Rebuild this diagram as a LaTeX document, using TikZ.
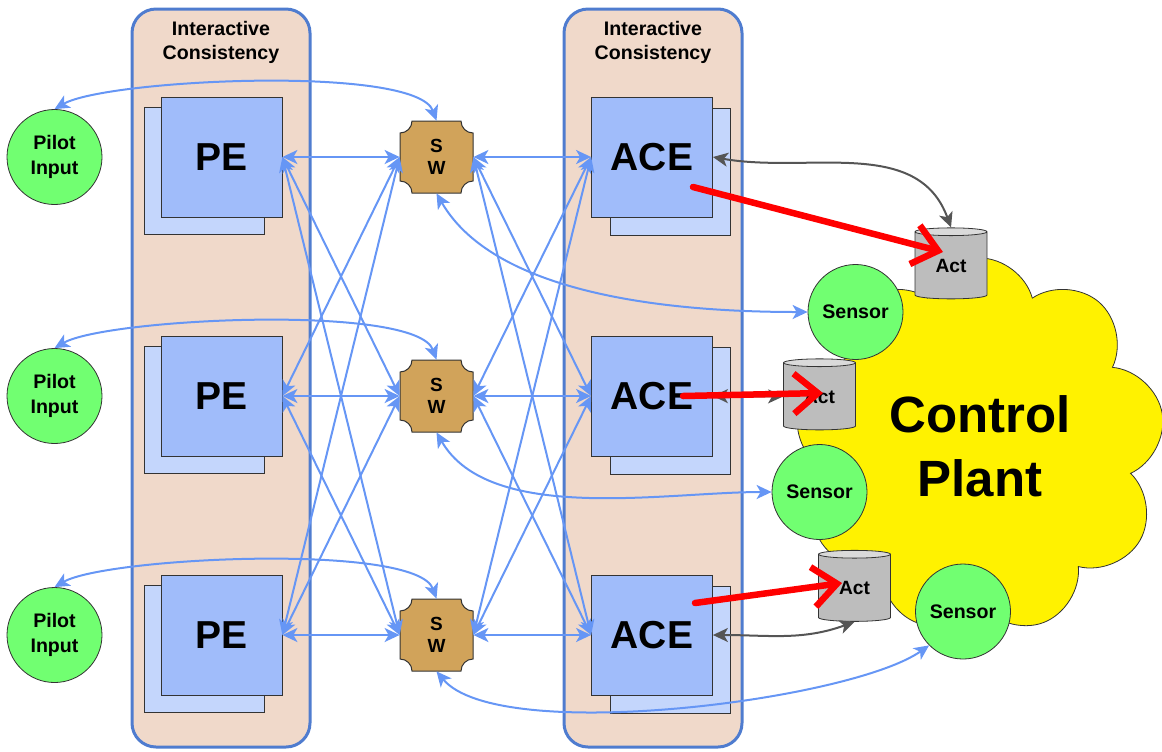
\documentclass[tikz,border=0pt]{standalone}
\usepackage{fontspec}
\setmainfont{Liberation Sans}
\usepackage{tikz}
\usepackage{xcolor}
\usetikzlibrary{calc, arrows, arrows.meta, shapes.geometric, shapes.symbols, positioning}
\definecolor{ic_fill}{RGB}{240,217,202}
\definecolor{ic_line}{RGB}{79,124,207}
\definecolor{box_front}{RGB}{160,188,250}
\definecolor{box_back}{RGB}{196,214,252}
\definecolor{sw_tan}{RGB}{209,163,90}
\definecolor{io_green}{RGB}{113,255,113}
\definecolor{link_blue}{RGB}{102,150,245}
\definecolor{act_gray}{RGB}{189,189,189}
\definecolor{act_top}{RGB}{218,218,218}
\definecolor{ctl_gray}{RGB}{85,85,85}
% スイッチの外形 (角を内側に丸く切る)
\newcommand{\swplate}[1]{%
  \filldraw[fill=sw_tan, draw=black!80, line width=0.5pt]
    ([shift={(-12.25pt,18pt)}]#1) -- ([shift={(12.25pt,18pt)}]#1)
    arc[start angle=180,end angle=270,radius=6pt] -- ([shift={(18.25pt,-12pt)}]#1)
    arc[start angle=90,end angle=180,radius=6pt] -- ([shift={(-12.25pt,-18pt)}]#1)
    arc[start angle=0,end angle=90,radius=6pt] -- ([shift={(-18.25pt,12pt)}]#1)
    arc[start angle=270,end angle=360,radius=6pt] -- cycle;}

\begin{document}
\begin{tikzpicture}[x=0.5pt,y=-0.5pt,>={Stealth[length=7.5pt,width=7pt,inset=2pt]},
    container/.style={draw=ic_line, line width=1.5pt, fill=ic_fill, rounded corners=12pt, minimum width=89pt, minimum height=369pt},
    ictitle/.style={font=\fontsize{9.8}{12}\selectfont\bfseries, align=center, inner sep=1pt},
    front/.style={draw=black!80, fill=box_front, minimum width=60.5pt, minimum height=60pt, font=\fontsize{19.5}{22}\selectfont\bfseries},
    back/.style={draw=black!80, fill=box_back, minimum width=60pt, minimum height=63.5pt},
    swtext/.style={minimum width=36.5pt, minimum height=36pt, inner sep=0pt, align=center, font=\fontsize{9.5}{11}\selectfont\bfseries},
    io/.style={circle, draw=black!80, fill=io_green, minimum size=47.5pt, inner sep=0pt, align=center, font=\fontsize{9.8}{12.5}\selectfont\bfseries},
    actuator/.style={cylinder, shape border rotate=90, aspect=0.25, draw=black!80, cylinder uses custom fill, cylinder body fill=act_gray, cylinder end fill=act_top, minimum width=36pt, minimum height=35.5pt, inner sep=0pt, font=\fontsize{9.6}{11}\selectfont\bfseries},
    link/.style={<->, link_blue, line width=1pt},
    ctl/.style={<->, ctl_gray, line width=1pt},
    cmd/.style={-{Straight Barb[length=12pt,width=20pt]}, red, line width=3.25pt, line cap=round}]
    \useasboundingbox (0,0) rectangle (1162,751);
    %Interactive Consistency
    \node[container] (ic1) at (221,378) {};
    \node[ictitle, below=5.5pt of ic1.north] (ic1t) {Interactive\\Consistency};
    \node[container] (ic2) at (653,378) {};
    \node[ictitle, below=5.5pt of ic2.north] (ic2t) {Interactive\\Consistency};
    %PE
    \node[back] (pe1b) at (204,170.5) {};
    \node[front] (pe1) at (221.5,157) {PE};
    \node[back] (pe2b) at (204,409.5) {};
    \node[front] (pe2) at (221.5,396) {PE};
    \node[back] (pe3b) at (204,648.5) {};
    \node[front] (pe3) at (221.5,635) {PE};
    %ACE
    \node[back] (ace1b) at (670.5,172) {};
    \node[front] (ace1) at (652,157) {ACE};
    \node[back] (ace2b) at (670.5,411) {};
    \node[front] (ace2) at (652,396) {ACE};
    \node[back] (ace3b) at (670.5,650) {};
    \node[front] (ace3) at (652,635) {ACE};
    %スイッチ
    \coordinate (c1) at (436.5,157);
    \coordinate (c2) at (436.5,396);
    \coordinate (c3) at (436.5,635);
    \swplate{c1} \swplate{c2} \swplate{c3}
    \node[swtext] (sw1) at (c1) {S\\W};
    \node[swtext] (sw2) at (c2) {S\\W};
    \node[swtext] (sw3) at (c3) {S\\W};
    %Pilot Input
    \node[io] (pilot1) at (54.5,157) {Pilot\\Input};
    \node[io] (pilot2) at (54.5,396) {Pilot\\Input};
    \node[io] (pilot3) at (54.5,635) {Pilot\\Input};
    %Control Plant
    \node[cloud, cloud puffs=9, aspect=1, draw=black!80, fill=yellow, minimum width=185pt, minimum height=188pt, align=center, font=\fontsize{25.5}{32}\selectfont\bfseries] (plant) at (980,446) {Control\\Plant};
    \node[io] (sensor1) at (855.5,312) {Sensor};
    \node[io] (sensor2) at (819.5,492) {Sensor};
    \node[io] (sensor3) at (963,611.5) {Sensor};
    \node[actuator] (act1) at (951,265.5) {Act};
    \node[actuator] (act2) at (819.5,396.5) {Act};
    \node[actuator] (act3) at (854.5,588) {Act};
    %PE-SW
    \draw[link] (pe1.east)--(sw1.west);
    \draw[link] (pe1.east)--(sw2.west);
    \draw[link] (pe1.east)--(sw3.west);
    \draw[link] (pe2.east)--(sw1.west);
    \draw[link] (pe2.east)--(sw2.west);
    \draw[link] (pe2.east)--(sw3.west);
    \draw[link] (pe3.east)--(sw1.west);
    \draw[link] (pe3.east)--(sw2.west);
    \draw[link] (pe3.east)--(sw3.west);
    %SW-ACE
    \draw[link] (sw1.east)--(ace1.west);
    \draw[link] (sw1.east)--(ace2.west);
    \draw[link] (sw1.east)--(ace3.west);
    \draw[link] (sw2.east)--(ace1.west);
    \draw[link] (sw2.east)--(ace2.west);
    \draw[link] (sw2.east)--(ace3.west);
    \draw[link] (sw3.east)--(ace1.west);
    \draw[link] (sw3.east)--(ace2.west);
    \draw[link] (sw3.east)--(ace3.west);
    %Pilot-SW
    \draw[link] (pilot1.north) to[out=30,in=110,looseness=0.4] (sw1.north);
    \draw[link] (pilot2.north) to[out=30,in=110,looseness=0.4] (sw2.north);
    \draw[link] (pilot3.north) to[out=30,in=110,looseness=0.4] (sw3.north);
    %SW-Sensor
    \draw[link] (sw1.south) to[out=-60,in=180,looseness=0.8] (sensor1.west);
    \draw[link] (sw2.south) to[out=-60,in=180,looseness=0.8] (sensor2.west);
    \draw[link] (sw3.south) to[out=-50,in=215,looseness=0.5] (sensor3.south west);
    %ACE-Act
    \draw[ctl] (ace1.east) to[out=-10,in=110] (act1.north);
    \draw[ctl] (ace2.east)--(act2.west);
    \draw[ctl] (ace3.east) to[out=0,in=200] (act3.south);
    %指令 (赤)
    \draw[cmd] ($(ace1)+(41,30)$)--($(act1)+(-8,-13.5)$);
    \draw[cmd] ($(ace2)+(31,0)$)--($(act2)+(3.5,-3.5)$);
    \draw[cmd] ($(ace3)+(43,-32)$)--($(act3)+(-12.5,-5)$);
\end{tikzpicture}
\end{document}
